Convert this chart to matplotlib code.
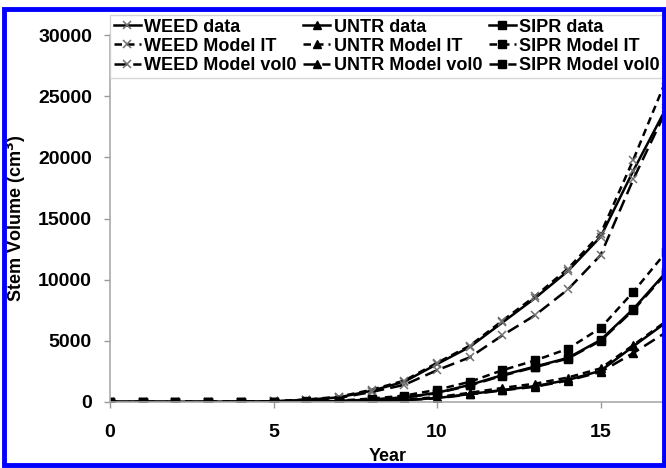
import matplotlib
matplotlib.use("Agg")
import matplotlib.pyplot as plt
from matplotlib.patches import Rectangle

plt.rcParams['font.family'] = ['Liberation Sans', 'DejaVu Sans']
plt.rcParams['font.weight'] = 'bold'

# Données (volume de tige, cm3) par année
years = list(range(18))
weed_data = [0, 0, 0, 5, 20, 60, 180, 380, 920, 1660, 3100, 4500, 6500, 8500, 10700, 13500, 18900, 24000]
weed_it = [0, 0, 0, 5, 25, 70, 200, 430, 1000, 1750, 3200, 4600, 6650, 8650, 10900, 13750, 19800, 26300]
weed_vol0 = [0, 0, 0, 5, 20, 50, 150, 330, 820, 1400, 2600, 3650, 5450, 7100, 9200, 12000, 18200, 23800]

untr_data = [0, 0, 0, 0, 0, 10, 20, 40, 80, 160, 320, 650, 980, 1300, 1800, 2550, 4550, 6500]
untr_it = [0, 0, 0, 0, 0, 10, 25, 50, 100, 200, 400, 750, 1150, 1500, 2000, 2750, 4650, 6600]
untr_vol0 = [0, 0, 0, 0, 0, 10, 20, 40, 80, 150, 300, 620, 950, 1250, 1750, 2450, 4000, 5700]

sipr_data = [0, 0, 0, 0, 5, 15, 40, 80, 200, 380, 750, 1400, 2200, 2900, 3600, 5070, 7600, 10600]
sipr_it = [0, 0, 0, 0, 5, 20, 50, 110, 280, 520, 1000, 1650, 2600, 3400, 4350, 6050, 9000, 12250]
sipr_vol0 = [0, 0, 0, 0, 5, 15, 35, 75, 190, 360, 720, 1350, 2150, 2850, 3550, 5000, 7500, 10500]

fig = plt.figure(figsize=(6.66, 4.68), dpi=100)
ax = fig.add_axes([110 / 666, 66 / 468, 556 / 666, 367 / 468])

lw = 1.8
solide = '-'
tirets_it = (0, (3, 2))
tirets_vol0 = (0, (5, 2.5))

# WEED : croix grises
kw_w = dict(marker='x', markersize=5.5, markeredgewidth=1.1, markeredgecolor='#707070', color='black', lw=lw)
ax.plot(years, weed_data, linestyle=solide, label='WEED data', **kw_w)
ax.plot(years, weed_it, linestyle=tirets_it, label='WEED Model IT', **kw_w)
ax.plot(years, weed_vol0, linestyle=tirets_vol0, label='WEED Model vol0', **kw_w)

# UNTR : triangles
kw_u = dict(marker='^', markersize=5.5, color='black', lw=lw)
ax.plot(years, untr_data, linestyle=solide, label='UNTR data', **kw_u)
ax.plot(years, untr_it, linestyle=tirets_it, label='UNTR Model IT', **kw_u)
ax.plot(years, untr_vol0, linestyle=tirets_vol0, label='UNTR Model vol0', **kw_u)

# SIPR : carrés
kw_s = dict(marker='s', markersize=5.5, color='black', lw=lw)
ax.plot(years, sipr_data, linestyle=solide, label='SIPR data', **kw_s)
ax.plot(years, sipr_it, linestyle=tirets_it, label='SIPR Model IT', **kw_s)
ax.plot(years, sipr_vol0, linestyle=tirets_vol0, label='SIPR Model vol0', **kw_s)

ax.set_xlim(0, 17)
ax.set_ylim(0, 30000)
ax.set_xticks([0, 5, 10, 15])
ax.set_yticks(range(0, 30001, 5000))
ax.tick_params(axis='both', labelsize=14, color='#999999', length=4, width=1)
ax.tick_params(axis='x', pad=12)
ax.tick_params(axis='y', pad=9)
for lab in ax.get_xticklabels() + ax.get_yticklabels():
    lab.set_fontweight('bold')

for s in ['top', 'right']:
    ax.spines[s].set_visible(False)
for s in ['left', 'bottom']:
    ax.spines[s].set_color('#aaaaaa')
    ax.spines[s].set_linewidth(1.2)

ax.set_xlabel('Year', fontsize=13, fontweight='bold', labelpad=5)
ax.set_ylabel('Stem Volume (cm$^3$)', fontsize=13, fontweight='bold')
ax.yaxis.set_label_coords(-82 / 556, 0.5)

leg = fig.legend(loc='upper left', bbox_to_anchor=(110 / 666, 1 - 15 / 468), ncol=3,
                 prop={'size': 13, 'weight': 'bold'}, frameon=True, fancybox=False,
                 handlelength=1.5, handletextpad=0.2, columnspacing=0.35,
                 labelspacing=0.12, borderpad=0.2, borderaxespad=0)
leg.get_frame().set_edgecolor('#cccccc')
leg.get_frame().set_linewidth(1)

# cadre bleu
fig.patches.append(Rectangle((4 / 666, 3 / 468), 660 / 666, 456 / 468, transform=fig.transFigure,
                             fill=False, edgecolor='#0000ff', linewidth=3.5, zorder=10))

fig.savefig('out.png', dpi=100)
